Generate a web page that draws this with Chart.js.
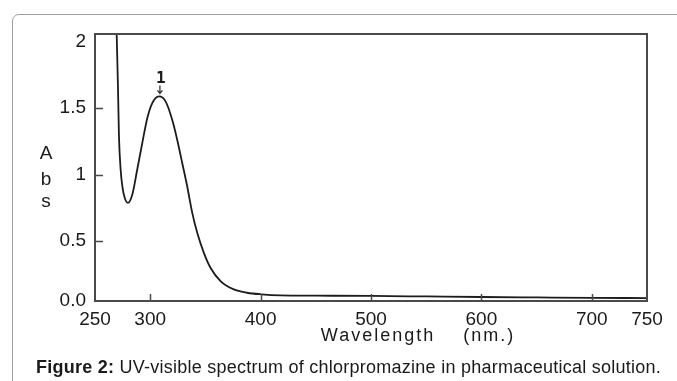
<!DOCTYPE html>
<html>
<head>
<meta charset="utf-8">
<script src="https://cdn.jsdelivr.net/npm/chart.js@4"></script>
<style>
  html, body { margin: 0; padding: 0; background: #fff; }
  body { width: 677px; height: 381px; position: relative; overflow: hidden; }
  #frame {
    position: absolute; left: 12px; top: 14px; width: 720px; height: 420px;
    border: 1px solid #9e9e9e; border-radius: 7px; box-sizing: border-box;
  }
  #chart { position: absolute; left: 0; top: 0; }
  #caption {
    position: absolute; left: 36px; top: 357px; white-space: nowrap;
    font: 18px "Liberation Sans", Arial, sans-serif; line-height: 20px;
    letter-spacing: 0.25px; color: #1a1a1a;
  }
</style>
</head>
<body>
<div id="frame"></div>
<canvas id="chart" width="677" height="381"></canvas>
<div id="caption"><b>Figure 2:</b> UV-visible spectrum of chlorpromazine in pharmaceutical solution.</div>
<script>
document.addEventListener("DOMContentLoaded", (event) => {
  const ctx = document.getElementById("chart");

  // wavelength (nm) and absorbance
  var wavelengths = [
    269.5, 270.8, 271.7, 273.2, 274.8, 276.9, 279.8, 283.8, 288.3, 292.9,
    297.4, 301.9, 307.9, 313.9, 320, 324.5, 329, 333.5, 338.1, 342.6, 348.6,
    354.6, 363.7, 375.7, 387.8, 400.7, 418, 450, 500, 550, 600, 650, 700, 750,
  ];
  var absorbance = [
    2.1, 1.66, 1.29, 1.04, 0.91, 0.825, 0.787, 0.85, 1.04, 1.24,
    1.425, 1.537, 1.587, 1.55, 1.41, 1.26, 1.087, 0.912, 0.712, 0.562, 0.412,
    0.3, 0.2, 0.137, 0.112, 0.1, 0.092, 0.09, 0.088, 0.084, 0.08, 0.077, 0.074, 0.072,
  ];
  var xTicks = [250, 300, 400, 500, 600, 700, 750];
  var yTicks = [0.05, 0.5, 1, 1.5, 2];
  var yTickLabels = ["0.0", "0.5", "1", "1.5", "2"];
  var yMin = 0.05;
  var yMax = 2.056;
  var yTitle = ["A", "b", "s"];
  var xTitle = "Wavelength    (nm.)";
  var peakLabel = "1";

  var data = [];
  for (let i = 0; i < wavelengths.length; i++) {
    data.push({ x: wavelengths[i], y: absorbance[i] });
  }

  const axisColor = "#4a4a4a";
  const textColor = "#1a1a1a";
  const font = "Liberation Sans, Arial, sans-serif";

  const extras = {
    id: "extras",
    afterDraw(chart) {
      const c = chart.ctx;
      const a = chart.chartArea;
      const xs = chart.scales.x;
      const ys = chart.scales.y;
      c.save();
      // top and right frame
      c.strokeStyle = axisColor;
      c.lineWidth = 2;
      c.beginPath();
      c.moveTo(a.left, a.top);
      c.lineTo(a.right, a.top);
      c.lineTo(a.right, a.bottom);
      c.stroke();
      // inside tick marks
      c.lineWidth = 1.5;
      c.beginPath();
      xTicks.slice(1, -1).forEach((v) => {
        const px = Math.round(xs.getPixelForValue(v)) + 0.5;
        c.moveTo(px, a.bottom);
        c.lineTo(px, a.bottom - 7);
      });
      yTicks.slice(1, -1).forEach((v) => {
        const py = Math.round(ys.getPixelForValue(v)) + 0.5;
        c.moveTo(a.left, py);
        c.lineTo(a.left + 8, py);
      });
      c.stroke();
      // y title, stacked letters
      c.fillStyle = textColor;
      c.font = "19px " + font;
      c.textAlign = "center";
      c.textBaseline = "alphabetic";
      const ly = [159, 185, 207];
      yTitle.forEach((t, i) => c.fillText(t, 46, ly[i]));
      // x title, letter spaced
      c.letterSpacing = "2px";
      c.font = "18px " + font;
      c.fillText(xTitle, 418, 341);
      c.letterSpacing = "0px";
      // peak marker on the main band
      let k = -1;
      for (let i = 0; i < absorbance.length; i++) {
        if (wavelengths[i] > 290 && (k < 0 || absorbance[i] > absorbance[k])) k = i;
      }
      const px = xs.getPixelForValue(wavelengths[k]) + 1;
      const py = ys.getPixelForValue(absorbance[k]);
      c.font = "bold 16px DejaVu Sans Mono, monospace";
      c.fillText(peakLabel, px + 1, py - 13);
      c.strokeStyle = "#333";
      c.lineWidth = 1.3;
      c.beginPath();
      c.moveTo(px, py - 11);
      c.lineTo(px, py - 3);
      c.moveTo(px - 2.5, py - 6);
      c.lineTo(px, py - 3);
      c.lineTo(px + 2.5, py - 6);
      c.stroke();
      c.restore();
    },
  };

  new Chart(ctx, {
    type: "line",
    data: {
      datasets: [
        {
          data: data,
          borderColor: "#1c1c1c",
          borderWidth: 1.8,
          pointRadius: 0,
          cubicInterpolationMode: "monotone",
        },
      ],
    },
    options: {
      responsive: false,
      animation: false,
      devicePixelRatio: 1,
      layout: { padding: { top: 34, right: 30, left: 0, bottom: 0 } },
      scales: {
        x: {
          type: "linear",
          min: 250,
          max: 750,
          afterFit: (s) => { s.height = 80; },
          afterBuildTicks: (s) => { s.ticks = xTicks.map((v) => ({ value: v })); },
          grid: { display: false, drawTicks: false },
          border: { display: true, color: axisColor, width: 2 },
          ticks: {
            autoSkip: false,
            maxRotation: 0,
            padding: 7,
            color: textColor,
            font: { size: 19, family: font },
          },
        },
        y: {
          min: yMin,
          max: yMax,
          afterFit: (s) => { s.width = 95; },
          afterBuildTicks: (s) => { s.ticks = yTicks.map((v) => ({ value: v })); },
          grid: { display: false, drawTicks: false },
          border: { display: true, color: axisColor, width: 2 },
          ticks: {
            autoSkip: false,
            padding: 9,
            color: textColor,
            font: { size: 19, family: font },
            callback: (v, i) => yTickLabels[i],
          },
        },
      },
      plugins: {
        legend: { display: false },
        tooltip: { enabled: false },
      },
    },
    plugins: [extras],
  });
});
</script>
</body>
</html>
